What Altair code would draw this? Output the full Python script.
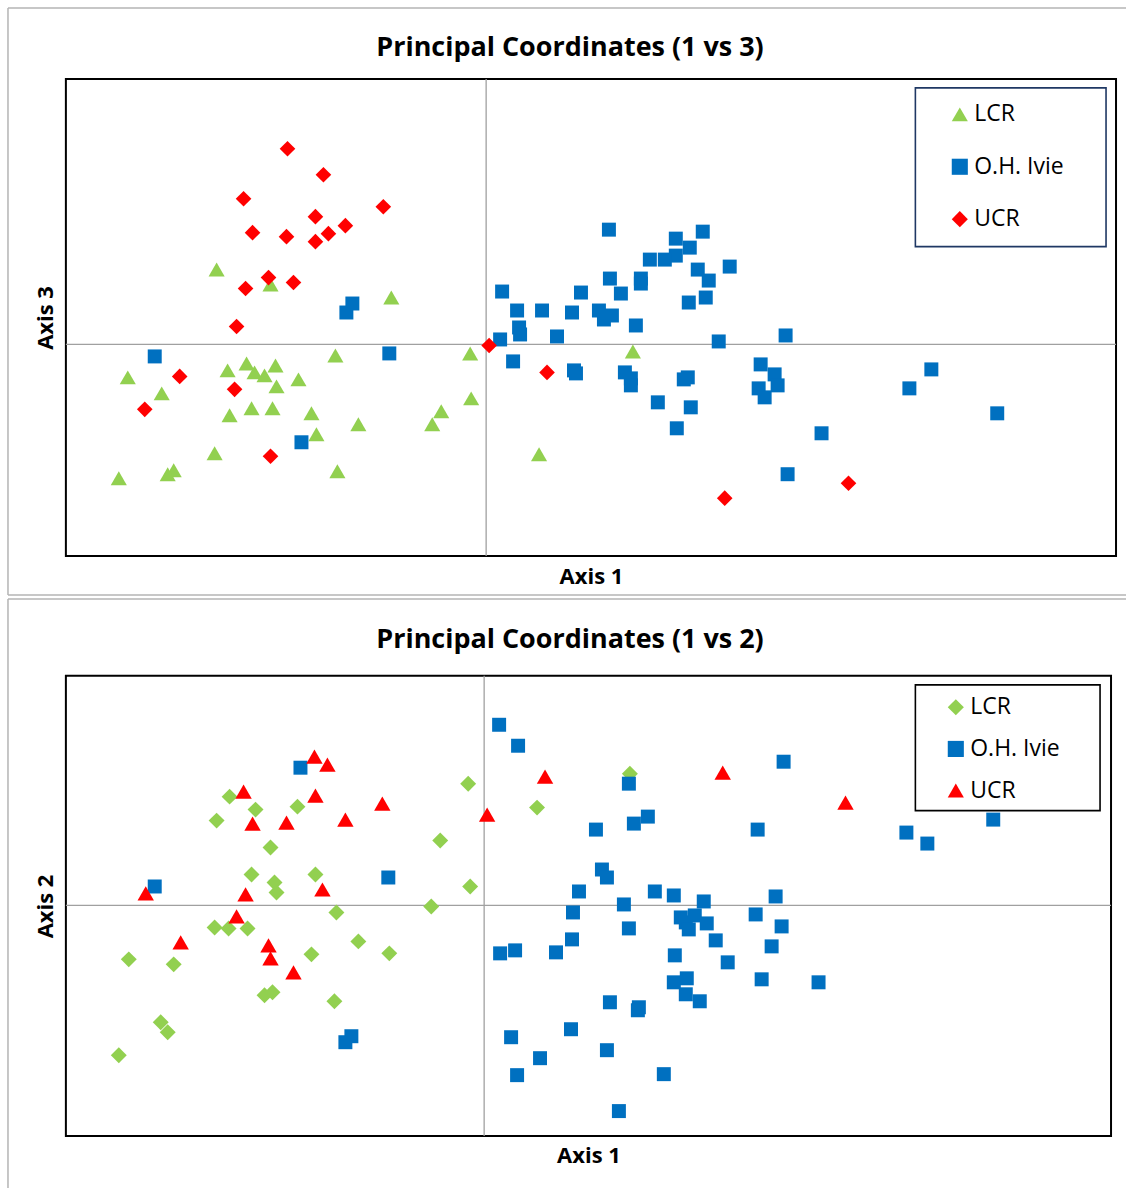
import altair as alt
import pandas as pd

GROUPS = ["LCR", "O.H. Ivie", "UCR"]
COLORS = ["#92D050", "#0070C0", "#FF0000"]
FONT = "Open Sans"

# ---- Principal coordinate scores, axis 1 vs axis 3 ----
lcr13_x = [-0.270, -0.216, -0.095, -0.151, -0.016, -0.359, -0.259, -0.240, -0.232, -0.222,
           -0.211, -0.210, -0.188, -0.325, -0.257, -0.235, -0.214, -0.175, -0.045, -0.015,
           -0.128, -0.054, -0.170, -0.272, -0.149, -0.368, -0.313, -0.319, 0.147, 0.053]
lcr13_y = [0.075, 0.060, 0.047, -0.011, -0.009, -0.033, -0.026, -0.019, -0.028, -0.031,
           -0.021, -0.042, -0.035, -0.049, -0.071, -0.064, -0.064, -0.069, -0.067, -0.054,
           -0.080, -0.080, -0.090, -0.109, -0.127, -0.134, -0.126, -0.130, -0.007, -0.110]

ohi13_x = [-0.134, -0.140, -0.332, -0.097, -0.185, 0.123, 0.217, 0.190, 0.204, 0.190,
           0.164, 0.179, 0.212, 0.244, 0.223, 0.124, 0.155, 0.155, 0.016, 0.095,
           0.135, 0.220, 0.203, 0.031, 0.056, 0.086, 0.113, 0.118, 0.126, 0.150,
           0.033, 0.034, 0.014, 0.071, 0.233, 0.300, 0.027, 0.088, 0.090, 0.139,
           0.145, 0.145, 0.198, 0.202, 0.275, 0.289, 0.273, 0.292, 0.279, 0.446,
           0.424, 0.512, 0.172, 0.205, 0.191, 0.336, 0.302]
ohi13_y = [0.041, 0.032, -0.012, -0.009, -0.098, 0.115, 0.113, 0.106, 0.097, 0.089,
           0.085, 0.085, 0.075, 0.078, 0.064, 0.066, 0.066, 0.061, 0.053, 0.052,
           0.051, 0.047, 0.042, 0.034, 0.034, 0.032, 0.034, 0.025, 0.029, 0.019,
           0.017, 0.010, 0.005, 0.008, 0.003, 0.009, -0.017, -0.026, -0.029, -0.028,
           -0.034, -0.041, -0.035, -0.033, -0.020, -0.030, -0.044, -0.041, -0.053, -0.025,
           -0.044, -0.069, -0.058, -0.063, -0.084, -0.089, -0.130]

ucr13_x = [-0.199, -0.163, -0.243, -0.103, -0.171, -0.234, -0.200, -0.141, -0.158, -0.171,
           -0.218, -0.241, -0.193, -0.250, 0.003, -0.307, -0.252, -0.342, -0.216, 0.061,
           0.239, 0.363]
ucr13_y = [0.196, 0.170, 0.146, 0.138, 0.128, 0.112, 0.108, 0.119, 0.111, 0.103,
           0.067, 0.056, 0.062, 0.018, -0.001, -0.032, -0.045, -0.065, -0.112, -0.028,
           -0.154, -0.139]

# ---- Principal coordinate scores, axis 1 vs axis 2 ----
lcr12_x = [-0.016, -0.255, -0.229, -0.187, -0.268, -0.044, -0.214, -0.233, -0.169, -0.210,
           -0.208, -0.014, -0.053, -0.148, -0.270, -0.256, -0.237, -0.126, -0.095, -0.173,
           -0.356, -0.311, -0.220, -0.212, -0.150, -0.324, -0.317, -0.366, 0.146, 0.053]
lcr12_y = [0.122, 0.109, 0.096, 0.099, 0.085, 0.065, 0.058, 0.031, 0.031, 0.023,
           0.013, 0.019, -0.001, -0.007, -0.022, -0.023, -0.023, -0.036, -0.048, -0.049,
           -0.054, -0.059, -0.090, -0.087, -0.096, -0.117, -0.127, -0.150, 0.132, 0.098]

ohi12_x = [-0.184, -0.330, -0.096, -0.133, -0.139, 0.015, 0.034, 0.300, 0.145, 0.164,
           0.150, 0.112, 0.274, 0.423, 0.444, 0.510, 0.118, 0.123, 0.095, 0.171,
           0.190, 0.220, 0.292, 0.140, 0.089, 0.197, 0.211, 0.202, 0.205, 0.223,
           0.272, 0.298, 0.145, 0.088, 0.232, 0.288, 0.016, 0.031, 0.072, 0.191,
           0.244, 0.190, 0.203, 0.278, 0.335, 0.202, 0.216, 0.126, 0.155, 0.154,
           0.087, 0.027, 0.123, 0.056, 0.033, 0.180, 0.135]
ohi12_y = [0.138, 0.019, 0.028, -0.131, -0.137, 0.181, 0.160, 0.144, 0.122, 0.089,
           0.082, 0.076, 0.076, 0.073, 0.062, 0.086, 0.036, 0.028, 0.014, 0.014,
           0.010, 0.004, 0.009, 0.001, -0.007, -0.012, -0.010, -0.017, -0.024, -0.018,
           -0.009, -0.021, -0.023, -0.034, -0.035, -0.041, -0.048, -0.045, -0.047, -0.050,
           -0.057, -0.077, -0.073, -0.074, -0.077, -0.089, -0.096, -0.097, -0.102, -0.105,
           -0.124, -0.132, -0.145, -0.153, -0.170, -0.169, -0.206]

ucr12_x = [-0.170, -0.157, -0.241, -0.169, -0.102, -0.232, -0.198, -0.139, 0.003, -0.339,
           -0.239, -0.162, -0.248, -0.304, -0.216, -0.214, -0.191, 0.061, 0.239, 0.362]
ucr12_y = [0.149, 0.141, 0.114, 0.110, 0.102, 0.082, 0.083, 0.086, 0.091, 0.012,
           0.011, 0.016, -0.011, -0.037, -0.040, -0.053, -0.067, 0.129, 0.133, 0.103]


def scores(xs, ys, name):
    return pd.DataFrame({"a1": xs, "ay": ys, "site": name})


ONE = pd.DataFrame({"k": [0]})
FRAME_GRAY = "#B4B4B4"
LEGEND_SYMBOL = 260


def panel(title, title_y, y_title, series, x_dom, y_dom, w, h, shapes,
          leg_x, leg_y, row_pad, box, box_color, frame_top, frame_bottom, close_bottom):
    xs = alt.Scale(domain=x_dom, nice=False, zero=False)
    ys = alt.Scale(domain=y_dom, nice=False, zero=False)
    x_axis = alt.Axis(title="Axis 1", labels=False, ticks=False, domain=False,
                      grid=False, titlePadding=10)
    y_axis = alt.Axis(title=y_title, labels=False, ticks=False, domain=False,
                      grid=False, titlePadding=8)
    X = alt.X("a1:Q", scale=xs, axis=x_axis)
    Y = alt.Y("ay:Q", scale=ys, axis=y_axis)

    zero = pd.DataFrame({"a1": [0.0], "ay": [0.0]})
    vline = alt.Chart(zero).mark_rule(color="#A0A0A0", strokeWidth=1.3).encode(x=X)
    hline = alt.Chart(zero).mark_rule(color="#A0A0A0", strokeWidth=1.3).encode(y=Y)

    legend = alt.Legend(title=None, orient="none", legendX=leg_x, legendY=leg_y,
                        padding=0, rowPadding=row_pad, labelOffset=3,
                        symbolSize=LEGEND_SYMBOL,
                        labelFont=FONT, labelFontSize=23, labelColor="black",
                        symbolStrokeWidth=0)
    color = alt.Color("site:N", scale=alt.Scale(domain=GROUPS, range=COLORS), legend=legend)
    shape = alt.Shape("site:N", scale=alt.Scale(domain=GROUPS, range=shapes), legend=legend)

    # one layer per series, drawn in legend order so later series sit on top
    point_layers = [
        alt.Chart(df).mark_point(filled=True, opacity=1, size=size).encode(
            x=X, y=Y, color=color, shape=shape)
        for df, size in series
    ]

    bx0, by0, bx1, by1 = box
    legend_box = alt.Chart(ONE).mark_rect(fill="white", stroke=box_color, strokeWidth=1.6).encode(
        x=alt.value(bx0), x2=alt.value(bx1), y=alt.value(by0), y2=alt.value(by1))

    heading = alt.Chart(ONE).mark_text(
        text=title, font=FONT, fontSize=27, fontWeight="bold", color="black",
        align="center", baseline="middle").encode(x=alt.value(505), y=alt.value(title_y))

    # light outer frame of the panel
    fx0, fx1 = -58, 1062
    edges = [
        alt.Chart(ONE).mark_rule(color=FRAME_GRAY, strokeWidth=1.5).encode(
            x=alt.value(fx0), y=alt.value(frame_top), y2=alt.value(frame_bottom)),
        alt.Chart(ONE).mark_rule(color=FRAME_GRAY, strokeWidth=1.5).encode(
            x=alt.value(fx0), x2=alt.value(fx1), y=alt.value(frame_top)),
    ]
    if close_bottom:
        edges.append(alt.Chart(ONE).mark_rule(color=FRAME_GRAY, strokeWidth=1.5).encode(
            x=alt.value(fx0), x2=alt.value(fx1), y=alt.value(frame_bottom)))

    return alt.layer(*edges, vline, hline, *point_layers, legend_box, heading).properties(
        width=w, height=h)


top = panel(
    "Principal Coordinates (1 vs 3)", -31, "Axis 3",
    [(scores(lcr13_x, lcr13_y, "LCR"), 260),
     (scores(ohi13_x, ohi13_y, "O.H. Ivie"), 196),
     (scores(ucr13_x, ucr13_y, "UCR"), 245)],
    [-0.421, 0.631], [-0.212, 0.266], 1052, 478,
    ["triangle-up", "square", "diamond"],
    884, 24, 28.5, (851, 9, 1042, 168), "#1F3864", -71, 517, True)

bottom = panel(
    "Principal Coordinates (1 vs 2)", -36, "Axis 2",
    [(scores(lcr12_x, lcr12_y, "LCR"), 255),
     (scores(ohi12_x, ohi12_y, "O.H. Ivie"), 196),
     (scores(ucr12_x, ucr12_y, "UCR"), 270)],
    [-0.419, 0.628], [-0.231, 0.230], 1047, 461,
    ["diamond", "square", "triangle-up"],
    880, 20, 17.7, (851, 9, 1036, 135), "black", -77, 513, False)

chart = alt.vconcat(top, bottom, spacing=120, bounds="flush").properties(
    padding={"left": 6, "top": 5, "right": 0, "bottom": 0}
).configure_view(
    stroke="black", strokeWidth=2
).configure_axis(
    titleFont=FONT, titleFontSize=22, titleFontWeight="bold", titleColor="black"
).configure_legend(
    symbolSize=LEGEND_SYMBOL
).resolve_scale(color="independent", shape="independent")

chart.save("out.html", embed_options={"renderer": "svg", "actions": False})
